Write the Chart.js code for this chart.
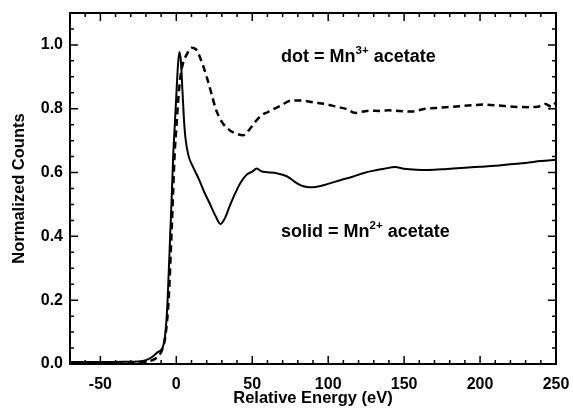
<!DOCTYPE html>
<html>
<head>
<meta charset="utf-8">
<script src="https://cdn.jsdelivr.net/npm/chart.js@4.4.1/dist/chart.umd.min.js"></script>
<style>
  body { margin: 0; background: #fff; }
  #wrap { width: 573px; height: 408px; }
</style>
</head>
<body>
<div id="wrap"><canvas id="xanesChart" width="573" height="408"></canvas></div>
<script>
// Mn2+ acetate (solid)
const energySolid = [-70, -50, -35, -25, -20, -16, -12, -9, -7.5, -6,
  -5, -4, -3, -2, -1, 0, 1, 2, 3, 4,
  5, 6, 8, 11, 15, 18, 22, 26, 29, 32,
  35, 38, 42, 46, 50, 53, 56, 60, 66, 70,
  74, 78, 82, 86, 90, 95, 101, 108, 116, 123,
  130, 137, 144, 150, 158, 166, 178, 190, 200, 210,
  220, 230, 240, 250];
const countsSolid = [0.006, 0.006, 0.007, 0.008, 0.012, 0.022, 0.038, 0.051, 0.084, 0.175,
  0.286, 0.407, 0.527, 0.658, 0.749, 0.84, 0.93, 0.978, 0.95, 0.86,
  0.769, 0.709, 0.653, 0.618, 0.578, 0.543, 0.503, 0.462, 0.439, 0.457,
  0.493, 0.527, 0.566, 0.592, 0.603, 0.613, 0.604, 0.601, 0.598, 0.593,
  0.585, 0.571, 0.56, 0.555, 0.554, 0.558, 0.566, 0.576, 0.587, 0.598,
  0.606, 0.612, 0.617, 0.612, 0.609, 0.608, 0.611, 0.615, 0.618, 0.621,
  0.626, 0.630, 0.636, 0.640];

// Mn3+ acetate (dashed)
const energyDot = [-70, -50, -30, -20, -14, -11, -9, -7, -5, -3,
  -1, 0, 2, 4, 7, 10, 13, 16, 20, 23,
  26, 30, 35, 40, 44, 48, 52, 56, 60, 64,
  69, 75, 82, 90, 98, 105, 112, 118, 123, 127,
  134, 140, 147, 155, 163, 173, 182, 192, 202, 212,
  222, 232, 238, 243, 247, 250];
const countsDot = [0.004, 0.004, 0.005, 0.007, 0.016, 0.029, 0.049, 0.094, 0.205, 0.427,
  0.668, 0.739, 0.87, 0.935, 0.971, 0.991, 0.986, 0.956, 0.9, 0.85,
  0.799, 0.759, 0.733, 0.721, 0.717, 0.734, 0.759, 0.779, 0.789, 0.799,
  0.81, 0.825, 0.826, 0.82, 0.815, 0.807, 0.799, 0.787, 0.791, 0.794,
  0.793, 0.795, 0.793, 0.791, 0.799, 0.803, 0.806, 0.81, 0.813, 0.81,
  0.806, 0.805, 0.806, 0.815, 0.806, 0.82];

const xTickValues = [-50, 0, 50, 100, 150, 200, 250];
const yTickValues = [0, 0.2, 0.4, 0.6, 0.8, 1.0];

const labels = [
  { pre: 'dot = Mn', sup: '3+', post: ' acetate', x: 69, y: 0.946 },
  { pre: 'solid = Mn', sup: '2+', post: ' acetate', x: 69, y: 0.399 }
];

const toPoints = (xs, ys) => xs.map((v, i) => ({ x: v, y: ys[i] }));

const FONT = '"Liberation Sans", Arial, Helvetica, sans-serif';

// box, inward ticks on all sides, text labels
const framePlugin = {
  id: 'frame',
  afterDraw(chart) {
    const { ctx, chartArea: a, scales: { x, y } } = chart;
    ctx.save();
    ctx.strokeStyle = '#000';
    ctx.lineWidth = 2;
    ctx.strokeRect(a.left, a.top, a.right - a.left, a.bottom - a.top);

    ctx.lineWidth = 1.5;
    ctx.beginPath();
    for (let v = -60; v < 250; v += 10) {
      const px = x.getPixelForValue(v);
      const len = v % 50 === 0 ? 8 : 4;
      ctx.moveTo(px, a.bottom);
      ctx.lineTo(px, a.bottom - len);
      ctx.moveTo(px, a.top);
      ctx.lineTo(px, a.top + len);
    }
    for (let i = 1; i <= 21; i++) {
      const py = y.getPixelForValue(i * 0.05);
      const len = i % 4 === 0 ? 8 : 4;
      ctx.moveTo(a.left, py);
      ctx.lineTo(a.left + len, py);
      ctx.moveTo(a.right, py);
      ctx.lineTo(a.right - len, py);
    }
    ctx.stroke();

    ctx.fillStyle = '#000';
    ctx.textBaseline = 'alphabetic';
    ctx.textAlign = 'left';
    labels.forEach(l => {
      let px = x.getPixelForValue(l.x);
      const py = y.getPixelForValue(l.y);
      ctx.font = 'bold 18px ' + FONT;
      ctx.fillText(l.pre, px, py);
      px += ctx.measureText(l.pre).width;
      ctx.font = 'bold 11.5px ' + FONT;
      ctx.fillText(l.sup, px, py - 8);
      px += ctx.measureText(l.sup).width;
      ctx.font = 'bold 18px ' + FONT;
      ctx.fillText(l.post, px, py);
    });
    ctx.restore();
  }
};

const config = {
  type: 'line',
  data: {
    datasets: [
      {
        label: 'solid = Mn2+ acetate',
        data: toPoints(energySolid, countsSolid),
        borderColor: '#000',
        borderWidth: 2,
        pointRadius: 0,
        fill: false,
        cubicInterpolationMode: 'monotone'
      },
      {
        label: 'dot = Mn3+ acetate',
        data: toPoints(energyDot, countsDot),
        borderColor: '#000',
        borderWidth: 2.5,
        borderDash: [7, 4.5],
        pointRadius: 0,
        fill: false,
        cubicInterpolationMode: 'monotone'
      }
    ]
  },
  options: {
    responsive: false,
    animation: false,
    layout: { padding: { top: 13, right: 17, left: 0, bottom: 0 } },
    plugins: {
      legend: { display: false },
      tooltip: { enabled: false }
    },
    scales: {
      x: {
        type: 'linear',
        min: -70,
        max: 250,
        grid: { display: false, drawTicks: false },
        border: { display: false },
        afterBuildTicks: s => { s.ticks = xTickValues.map(v => ({ value: v })); },
        afterFit: s => { s.height = 44; s.paddingLeft = 0; s.paddingRight = 0; },
        ticks: {
          padding: 11,
          maxRotation: 0,
          color: '#000',
          font: { family: FONT, size: 16, weight: 'bold' },
          callback: v => String(v)
        },
        title: {
          display: true,
          text: 'Relative Energy (eV)',
          color: '#000',
          padding: { top: 0, bottom: 0 },
          font: { family: FONT, size: 16.5, weight: 'bold' }
        }
      },
      y: {
        type: 'linear',
        min: 0,
        max: 1.1,
        grid: { display: false, drawTicks: false },
        border: { display: false },
        afterBuildTicks: s => { s.ticks = yTickValues.map(v => ({ value: v })); },
        afterFit: s => { s.width = 70; s.paddingTop = 0; s.paddingBottom = 0; },
        ticks: {
          padding: 7,
          color: '#000',
          font: { family: FONT, size: 16, weight: 'bold' },
          callback: v => v.toFixed(1)
        },
        title: {
          display: true,
          text: 'Normalized Counts',
          color: '#000',
          padding: { top: 10, bottom: 0 },
          font: { family: FONT, size: 16.5, weight: 'bold' }
        }
      }
    }
  },
  plugins: [framePlugin]
};

const xanesChart = new Chart(document.getElementById('xanesChart').getContext('2d'), config);
</script>
</body>
</html>
